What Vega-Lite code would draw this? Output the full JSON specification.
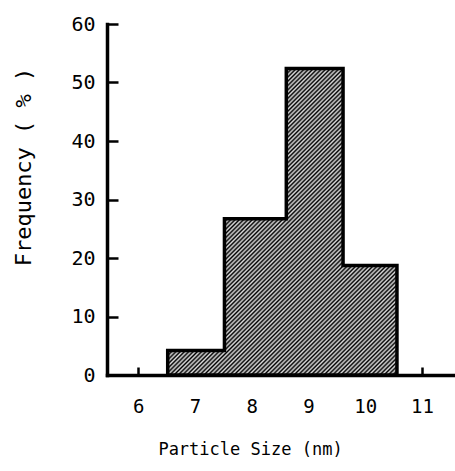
{
  "$schema": "https://vega.github.io/schema/vega-lite/v6.json",
  "autosize": {"type": "none"},
  "padding": {"left": 107, "top": 24, "right": 0, "bottom": 96},
  "width": 348,
  "height": 351,
  "background": "white",
  "config": {"view": {"stroke": null}},
  "data": {"values": [
    {"size": 6.52, "freq": 4.2},
    {"size": 7.52, "freq": 26.7},
    {"size": 8.61, "freq": 52.4},
    {"size": 9.61, "freq": 18.7},
    {"size": 10.56, "freq": 18.7}
  ]},
  "mark": {
    "type": "area",
    "interpolate": "step-after",
    "opacity": 1,
    "stroke": "black",
    "strokeWidth": 3.5,
    "strokeJoin": "miter",
    "fill": {
      "gradient": "linear",
      "x1": 0, "y1": 0, "x2": 0.838, "y2": 1.121,
      "stops": [
        {"offset": 0, "color": "#000"}, {"offset": 0.004, "color": "#ddd"}, {"offset": 0.008, "color": "#000"}, {"offset": 0.012, "color": "#ddd"}, {"offset": 0.016, "color": "#000"}, {"offset": 0.02, "color": "#ddd"}, {"offset": 0.024, "color": "#000"}, {"offset": 0.028, "color": "#ddd"}, {"offset": 0.032, "color": "#000"}, {"offset": 0.036, "color": "#ddd"},
        {"offset": 0.04, "color": "#000"}, {"offset": 0.044, "color": "#ddd"}, {"offset": 0.048, "color": "#000"}, {"offset": 0.052, "color": "#ddd"}, {"offset": 0.056, "color": "#000"}, {"offset": 0.06, "color": "#ddd"}, {"offset": 0.064, "color": "#000"}, {"offset": 0.068, "color": "#ddd"}, {"offset": 0.072, "color": "#000"}, {"offset": 0.076, "color": "#ddd"},
        {"offset": 0.08, "color": "#000"}, {"offset": 0.084, "color": "#ddd"}, {"offset": 0.088, "color": "#000"}, {"offset": 0.092, "color": "#ddd"}, {"offset": 0.096, "color": "#000"}, {"offset": 0.1, "color": "#ddd"}, {"offset": 0.104, "color": "#000"}, {"offset": 0.108, "color": "#ddd"}, {"offset": 0.112, "color": "#000"}, {"offset": 0.116, "color": "#ddd"},
        {"offset": 0.12, "color": "#000"}, {"offset": 0.124, "color": "#ddd"}, {"offset": 0.128, "color": "#000"}, {"offset": 0.132, "color": "#ddd"}, {"offset": 0.136, "color": "#000"}, {"offset": 0.14, "color": "#ddd"}, {"offset": 0.144, "color": "#000"}, {"offset": 0.148, "color": "#ddd"}, {"offset": 0.152, "color": "#000"}, {"offset": 0.156, "color": "#ddd"},
        {"offset": 0.16, "color": "#000"}, {"offset": 0.164, "color": "#ddd"}, {"offset": 0.168, "color": "#000"}, {"offset": 0.172, "color": "#ddd"}, {"offset": 0.176, "color": "#000"}, {"offset": 0.18, "color": "#ddd"}, {"offset": 0.184, "color": "#000"}, {"offset": 0.188, "color": "#ddd"}, {"offset": 0.192, "color": "#000"}, {"offset": 0.196, "color": "#ddd"},
        {"offset": 0.2, "color": "#000"}, {"offset": 0.204, "color": "#ddd"}, {"offset": 0.208, "color": "#000"}, {"offset": 0.212, "color": "#ddd"}, {"offset": 0.216, "color": "#000"}, {"offset": 0.22, "color": "#ddd"}, {"offset": 0.224, "color": "#000"}, {"offset": 0.228, "color": "#ddd"}, {"offset": 0.232, "color": "#000"}, {"offset": 0.236, "color": "#ddd"},
        {"offset": 0.24, "color": "#000"}, {"offset": 0.244, "color": "#ddd"}, {"offset": 0.248, "color": "#000"}, {"offset": 0.252, "color": "#ddd"}, {"offset": 0.256, "color": "#000"}, {"offset": 0.26, "color": "#ddd"}, {"offset": 0.264, "color": "#000"}, {"offset": 0.268, "color": "#ddd"}, {"offset": 0.272, "color": "#000"}, {"offset": 0.276, "color": "#ddd"},
        {"offset": 0.28, "color": "#000"}, {"offset": 0.284, "color": "#ddd"}, {"offset": 0.288, "color": "#000"}, {"offset": 0.292, "color": "#ddd"}, {"offset": 0.296, "color": "#000"}, {"offset": 0.3, "color": "#ddd"}, {"offset": 0.304, "color": "#000"}, {"offset": 0.308, "color": "#ddd"}, {"offset": 0.312, "color": "#000"}, {"offset": 0.316, "color": "#ddd"},
        {"offset": 0.32, "color": "#000"}, {"offset": 0.324, "color": "#ddd"}, {"offset": 0.328, "color": "#000"}, {"offset": 0.332, "color": "#ddd"}, {"offset": 0.336, "color": "#000"}, {"offset": 0.34, "color": "#ddd"}, {"offset": 0.344, "color": "#000"}, {"offset": 0.348, "color": "#ddd"}, {"offset": 0.352, "color": "#000"}, {"offset": 0.356, "color": "#ddd"},
        {"offset": 0.36, "color": "#000"}, {"offset": 0.364, "color": "#ddd"}, {"offset": 0.368, "color": "#000"}, {"offset": 0.372, "color": "#ddd"}, {"offset": 0.376, "color": "#000"}, {"offset": 0.38, "color": "#ddd"}, {"offset": 0.384, "color": "#000"}, {"offset": 0.388, "color": "#ddd"}, {"offset": 0.392, "color": "#000"}, {"offset": 0.396, "color": "#ddd"},
        {"offset": 0.4, "color": "#000"}, {"offset": 0.404, "color": "#ddd"}, {"offset": 0.408, "color": "#000"}, {"offset": 0.412, "color": "#ddd"}, {"offset": 0.416, "color": "#000"}, {"offset": 0.42, "color": "#ddd"}, {"offset": 0.424, "color": "#000"}, {"offset": 0.428, "color": "#ddd"}, {"offset": 0.432, "color": "#000"}, {"offset": 0.436, "color": "#ddd"},
        {"offset": 0.44, "color": "#000"}, {"offset": 0.444, "color": "#ddd"}, {"offset": 0.448, "color": "#000"}, {"offset": 0.452, "color": "#ddd"}, {"offset": 0.456, "color": "#000"}, {"offset": 0.46, "color": "#ddd"}, {"offset": 0.464, "color": "#000"}, {"offset": 0.468, "color": "#ddd"}, {"offset": 0.472, "color": "#000"}, {"offset": 0.476, "color": "#ddd"},
        {"offset": 0.48, "color": "#000"}, {"offset": 0.484, "color": "#ddd"}, {"offset": 0.488, "color": "#000"}, {"offset": 0.492, "color": "#ddd"}, {"offset": 0.496, "color": "#000"}, {"offset": 0.5, "color": "#ddd"}, {"offset": 0.504, "color": "#000"}, {"offset": 0.508, "color": "#ddd"}, {"offset": 0.512, "color": "#000"}, {"offset": 0.516, "color": "#ddd"},
        {"offset": 0.52, "color": "#000"}, {"offset": 0.524, "color": "#ddd"}, {"offset": 0.528, "color": "#000"}, {"offset": 0.532, "color": "#ddd"}, {"offset": 0.536, "color": "#000"}, {"offset": 0.54, "color": "#ddd"}, {"offset": 0.544, "color": "#000"}, {"offset": 0.548, "color": "#ddd"}, {"offset": 0.552, "color": "#000"}, {"offset": 0.556, "color": "#ddd"},
        {"offset": 0.56, "color": "#000"}, {"offset": 0.564, "color": "#ddd"}, {"offset": 0.568, "color": "#000"}, {"offset": 0.572, "color": "#ddd"}, {"offset": 0.576, "color": "#000"}, {"offset": 0.58, "color": "#ddd"}, {"offset": 0.584, "color": "#000"}, {"offset": 0.588, "color": "#ddd"}, {"offset": 0.592, "color": "#000"}, {"offset": 0.596, "color": "#ddd"},
        {"offset": 0.6, "color": "#000"}, {"offset": 0.604, "color": "#ddd"}, {"offset": 0.608, "color": "#000"}, {"offset": 0.612, "color": "#ddd"}, {"offset": 0.616, "color": "#000"}, {"offset": 0.62, "color": "#ddd"}, {"offset": 0.624, "color": "#000"}, {"offset": 0.628, "color": "#ddd"}, {"offset": 0.632, "color": "#000"}, {"offset": 0.636, "color": "#ddd"},
        {"offset": 0.64, "color": "#000"}, {"offset": 0.644, "color": "#ddd"}, {"offset": 0.648, "color": "#000"}, {"offset": 0.652, "color": "#ddd"}, {"offset": 0.656, "color": "#000"}, {"offset": 0.66, "color": "#ddd"}, {"offset": 0.664, "color": "#000"}, {"offset": 0.668, "color": "#ddd"}, {"offset": 0.672, "color": "#000"}, {"offset": 0.676, "color": "#ddd"},
        {"offset": 0.68, "color": "#000"}, {"offset": 0.684, "color": "#ddd"}, {"offset": 0.688, "color": "#000"}, {"offset": 0.692, "color": "#ddd"}, {"offset": 0.696, "color": "#000"}, {"offset": 0.7, "color": "#ddd"}, {"offset": 0.704, "color": "#000"}, {"offset": 0.708, "color": "#ddd"}, {"offset": 0.712, "color": "#000"}, {"offset": 0.716, "color": "#ddd"},
        {"offset": 0.72, "color": "#000"}, {"offset": 0.724, "color": "#ddd"}, {"offset": 0.728, "color": "#000"}, {"offset": 0.732, "color": "#ddd"}, {"offset": 0.736, "color": "#000"}, {"offset": 0.74, "color": "#ddd"}, {"offset": 0.744, "color": "#000"}, {"offset": 0.748, "color": "#ddd"}, {"offset": 0.752, "color": "#000"}, {"offset": 0.756, "color": "#ddd"},
        {"offset": 0.76, "color": "#000"}, {"offset": 0.764, "color": "#ddd"}, {"offset": 0.768, "color": "#000"}, {"offset": 0.772, "color": "#ddd"}, {"offset": 0.776, "color": "#000"}, {"offset": 0.78, "color": "#ddd"}, {"offset": 0.784, "color": "#000"}, {"offset": 0.788, "color": "#ddd"}, {"offset": 0.792, "color": "#000"}, {"offset": 0.796, "color": "#ddd"},
        {"offset": 0.8, "color": "#000"}, {"offset": 0.804, "color": "#ddd"}, {"offset": 0.808, "color": "#000"}, {"offset": 0.812, "color": "#ddd"}, {"offset": 0.816, "color": "#000"}, {"offset": 0.82, "color": "#ddd"}, {"offset": 0.824, "color": "#000"}, {"offset": 0.828, "color": "#ddd"}, {"offset": 0.832, "color": "#000"}, {"offset": 0.836, "color": "#ddd"},
        {"offset": 0.84, "color": "#000"}, {"offset": 0.844, "color": "#ddd"}, {"offset": 0.848, "color": "#000"}, {"offset": 0.852, "color": "#ddd"}, {"offset": 0.856, "color": "#000"}, {"offset": 0.86, "color": "#ddd"}, {"offset": 0.864, "color": "#000"}, {"offset": 0.868, "color": "#ddd"}, {"offset": 0.872, "color": "#000"}, {"offset": 0.876, "color": "#ddd"},
        {"offset": 0.88, "color": "#000"}, {"offset": 0.884, "color": "#ddd"}, {"offset": 0.888, "color": "#000"}, {"offset": 0.892, "color": "#ddd"}, {"offset": 0.896, "color": "#000"}, {"offset": 0.9, "color": "#ddd"}, {"offset": 0.904, "color": "#000"}, {"offset": 0.908, "color": "#ddd"}, {"offset": 0.912, "color": "#000"}, {"offset": 0.916, "color": "#ddd"},
        {"offset": 0.92, "color": "#000"}, {"offset": 0.924, "color": "#ddd"}, {"offset": 0.928, "color": "#000"}, {"offset": 0.932, "color": "#ddd"}, {"offset": 0.936, "color": "#000"}, {"offset": 0.94, "color": "#ddd"}, {"offset": 0.944, "color": "#000"}, {"offset": 0.948, "color": "#ddd"}, {"offset": 0.952, "color": "#000"}, {"offset": 0.956, "color": "#ddd"},
        {"offset": 0.96, "color": "#000"}, {"offset": 0.964, "color": "#ddd"}, {"offset": 0.968, "color": "#000"}, {"offset": 0.972, "color": "#ddd"}, {"offset": 0.976, "color": "#000"}, {"offset": 0.98, "color": "#ddd"}, {"offset": 0.984, "color": "#000"}, {"offset": 0.988, "color": "#ddd"}, {"offset": 0.992, "color": "#000"}, {"offset": 0.996, "color": "#ddd"},
        {"offset": 1, "color": "#000"}
      ]
    }
  },
  "encoding": {
    "x": {
      "field": "size",
      "type": "quantitative",
      "scale": {"domain": [5.45, 11.583], "nice": false, "zero": false},
      "axis": {
        "values": [6, 7, 8, 9, 10, 11],
        "format": "d",
        "grid": false,
        "domainColor": "black",
        "domainWidth": 3.5,
        "domainCap": "square",
        "tickColor": "black",
        "tickWidth": 2.5,
        "tickSize": -8,
        "labelFont": "DejaVu Sans Mono",
        "labelFontSize": 19,
        "labelColor": "black",
        "labelBaseline": "middle",
        "labelPadding": 39,
        "labelFlush": false,
        "labelOverlap": false,
        "title": "Particle Size (nm)",
        "titleFont": "DejaVu Sans Mono",
        "titleFontSize": 17,
        "titleFontWeight": "normal",
        "titleColor": "black",
        "titleX": 143,
        "titleY": 79,
        "titleAlign": "center",
        "titleBaseline": "alphabetic"
      }
    },
    "y": {
      "field": "freq",
      "type": "quantitative",
      "scale": {"domain": [0, 60], "nice": false},
      "axis": {
        "values": [0, 10, 20, 30, 40, 50, 60],
        "format": "d",
        "grid": false,
        "domainColor": "black",
        "domainWidth": 3.5,
        "domainCap": "square",
        "tickColor": "black",
        "tickWidth": 2.5,
        "tickSize": -11,
        "labelFont": "DejaVu Sans Mono",
        "labelFontSize": 20,
        "labelColor": "black",
        "labelPadding": 23,
        "labelFlush": false,
        "labelOverlap": false,
        "title": "Frequency ( % )",
        "titleFont": "DejaVu Sans Mono",
        "titleFontSize": 22,
        "titleFontWeight": "normal",
        "titleColor": "black",
        "titleAngle": -90,
        "titleX": -76.5,
        "titleY": 142.5,
        "titleAlign": "center",
        "titleBaseline": "alphabetic"
      }
    }
  }
}
